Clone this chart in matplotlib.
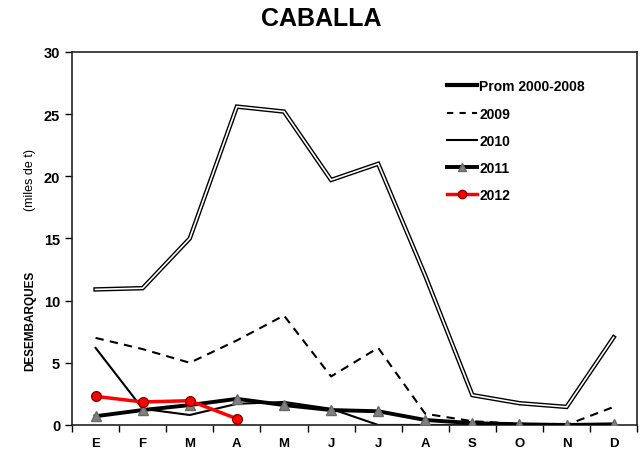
import matplotlib.pyplot as plt
import numpy as np

plt.rcParams['font.family'] = ['Liberation Sans', 'DejaVu Sans']

months = ['E', 'F', 'M', 'A', 'M', 'J', 'J', 'A', 'S', 'O', 'N', 'D']
prom = [10.9, 11.0, 15.0, 25.6, 25.2, 19.7, 21.0, 12.0, 2.4, 1.75, 1.45, 7.05]
y2009 = [7.0, 6.1, 5.0, 6.8, 8.8, 3.9, 6.2, 0.9, 0.3, 0.1, 0.0, 1.45]
y2010 = [6.2, 1.3, 0.8, 1.7, 1.85, 1.3, 0.0, 0.0, 0.0, 0.0, 0.0, 0.0]
y2011 = [0.7, 1.2, 1.6, 2.1, 1.6, 1.2, 1.1, 0.4, 0.15, 0.05, 0.0, 0.05]
y2012 = [2.3, 1.85, 1.95, 0.5]

x = np.arange(len(months))

fig = plt.figure(figsize=(6.43, 4.6), dpi=100)
ax = fig.add_axes([0.112, 0.074, 0.879, 0.811])

# double line for the 2000-2008 mean
ax.plot(x, prom, color='black', linewidth=3.2, solid_joinstyle='miter', zorder=3)
ax.plot(x, prom, color='white', linewidth=1.2, solid_joinstyle='miter', zorder=3)
ax.plot(x, y2009, color='black', linewidth=1.5, linestyle=(0, (4, 3)), zorder=2)
ax.plot(x, y2010, color='black', linewidth=1.5, zorder=2)
ax.plot(x, y2011, color='black', linewidth=2.8, marker='^', markersize=7,
        markerfacecolor='gray', markeredgecolor='dimgray', zorder=4)
ax.plot(x[:len(y2012)], y2012, color='red', linewidth=2.5, marker='o', markersize=7,
        markerfacecolor='red', markeredgecolor='darkred', zorder=5)

ax.set_xlim(-0.5, 11.5)
ax.set_ylim(0, 30)
ax.set_yticks([0, 5, 10, 15, 20, 25, 30])
ax.set_xticks(x)
ax.set_xticklabels(months)
ax.set_xticks(np.arange(-0.5, 12, 1), minor=True)
ax.tick_params(axis='x', which='major', length=0, pad=9, labelsize=9.5)
ax.tick_params(axis='x', which='minor', length=5, direction='out', width=1)
ax.tick_params(axis='y', length=5, direction='out', labelsize=10.5, width=1)
for lab in ax.get_xticklabels() + ax.get_yticklabels():
    lab.set_fontweight('bold')
for s in ax.spines.values():
    s.set_linewidth(1.2)
    s.set_color('#222222')

# legend handles
h1, = ax.plot([], [], color='black', linewidth=3)
h2, = ax.plot([], [], color='black', linewidth=1.5, linestyle=(0, (3, 3)))
h3, = ax.plot([], [], color='black', linewidth=1.5)
h4, = ax.plot([], [], color='black', linewidth=2.8, marker='^', markersize=6,
              markerfacecolor='gray', markeredgecolor='dimgray')
h5, = ax.plot([], [], color='red', linewidth=2.5, marker='o', markersize=6,
              markerfacecolor='red', markeredgecolor='darkred')
leg = ax.legend([h1, h2, h3, h4, h5], ['Prom 2000-2008', '2009', '2010', '2011', '2012'],
                loc='upper left', bbox_to_anchor=(0.641, 0.96), frameon=False,
                handlelength=2.2, handletextpad=0.15, labelspacing=0.95,
                prop={'weight': 'bold', 'size': 10})

fig.text(0.5, 0.958, 'CABALLA', ha='center', va='center', fontsize=18,
         fontweight='bold')
fig.text(0.047, 0.302, 'DESEMBARQUES', rotation=90, ha='center', va='center',
         fontsize=8.5, fontweight='bold')
fig.text(0.047, 0.609, '(miles de t)', rotation=90, ha='center', va='center',
         fontsize=9)

plt.savefig('out.png', dpi=100)
